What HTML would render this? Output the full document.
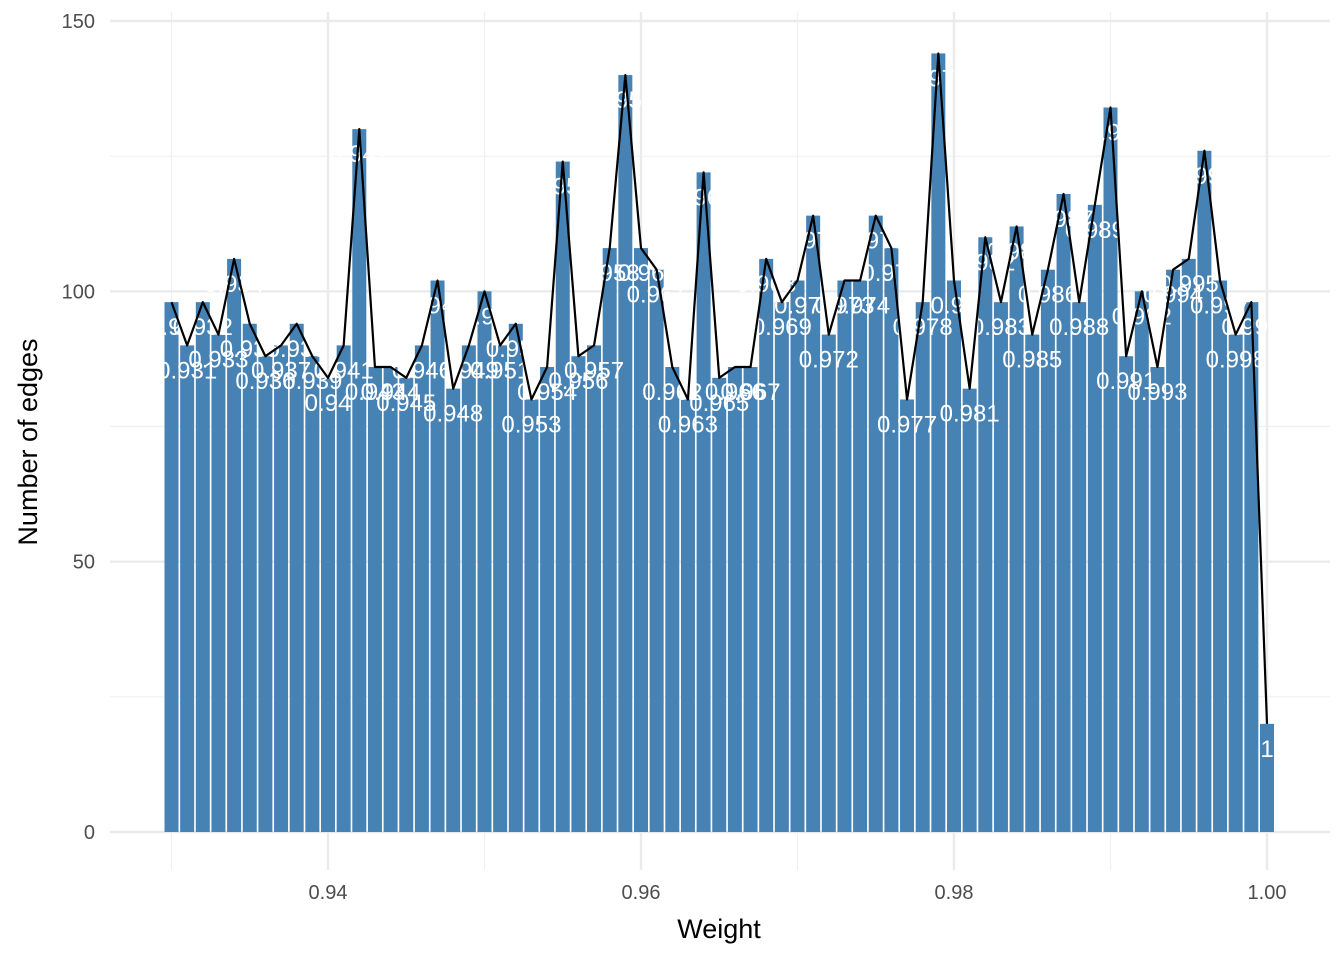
<!DOCTYPE html>
<html><head><meta charset="utf-8"><style>
body{margin:0;background:#fff}
svg{display:block;font-family:"Liberation Sans","DejaVu Sans",sans-serif}
</style></head><body>
<svg id="chart" width="1344" height="960" viewBox="0 0 1344 960">
<g id="grid"></g>
<g id="bars"></g>
<g id="labels"></g>
<g id="line"></g>
<g id="axes"></g>
<text x="719" y="938" font-size="27" text-anchor="middle" fill="#000">Weight</text>
<text transform="translate(37,442) rotate(-90)" font-size="27" text-anchor="middle" fill="#000">Number of edges</text>
</svg>
<script>
const weights=[];for(let i=0;i<=70;i++)weights.push(+(0.93+i*0.001).toFixed(3));
const counts=[98,90,98,92,106,94,88,90,94,88,84,90,130,86,86,84,90,102,82,90,100,90,94,80,86,124,88,90,108,140,108,104,86,80,122,84,86,86,106,98,102,114,92,102,102,114,108,80,98,144,102,82,110,98,112,92,104,118,98,116,134,88,100,86,104,106,126,102,92,98,20];
const xTicks=[0.94,0.96,0.98,1.00];
const xTickLabels=["0.94","0.96","0.98","1.00"];
const xMinor=[0.93,0.95,0.97,0.99];
const yTicks=[0,50,100,150];
const yMinor=[25,75,125];
const NS="http://www.w3.org/2000/svg";
const X=v=>171.5+(v-0.93)*15650;
const Y=v=>832-v*5.4067;
function mk(t,a,p){const e=document.createElementNS(NS,t);for(const k in a)e.setAttribute(k,a[k]);p.appendChild(e);return e;}
const grid=document.getElementById('grid'),axes=document.getElementById('axes');
yMinor.forEach(v=>{const l=mk('line',{x1:110,x2:1330,y1:Y(v),y2:Y(v),stroke:'#f0f0f0','stroke-width':1.2},grid);

});
xMinor.forEach(v=>{const l=mk('line',{x1:X(v),x2:X(v),y1:12,y2:870,stroke:'#f0f0f0','stroke-width':1.2},grid);

});
yTicks.forEach(v=>{const l=mk('line',{x1:110,x2:1330,y1:Y(v),y2:Y(v),stroke:'#ebebeb','stroke-width':2.4},grid);


const t=mk('text',{x:95,y:Y(v)+7,'font-size':20,'text-anchor':'end',fill:'#4d4d4d'},axes);t.textContent=v;

});
xTicks.forEach((v,i)=>{const l=mk('line',{x1:X(v),x2:X(v),y1:12,y2:870,stroke:'#ebebeb','stroke-width':2.4},grid);


const t=mk('text',{x:X(v),y:899,'font-size':20,'text-anchor':'middle',fill:'#4d4d4d'},axes);t.textContent=xTickLabels[i];

});
const bars=document.getElementById('bars'),labels=document.getElementById('labels');
const bw=14;
weights.forEach((w,i)=>{const r=mk('rect',{x:X(w)-bw/2,y:Y(counts[i]),width:bw,height:Y(0)-Y(counts[i]),fill:'#4682b4'},bars);


const t=mk('text',{x:X(w),y:Y(counts[i])+33,'font-size':24,'text-anchor':'middle',fill:'#fff'},labels);
t.textContent=String(w);

});
const pts=weights.map((w,i)=>X(w)+','+Y(counts[i])).join(' ');
const pl=mk('polyline',{points:pts,fill:'none',stroke:'#000','stroke-width':2.2,'stroke-linejoin':'round'},document.getElementById('line'));


</script>
</body></html>
